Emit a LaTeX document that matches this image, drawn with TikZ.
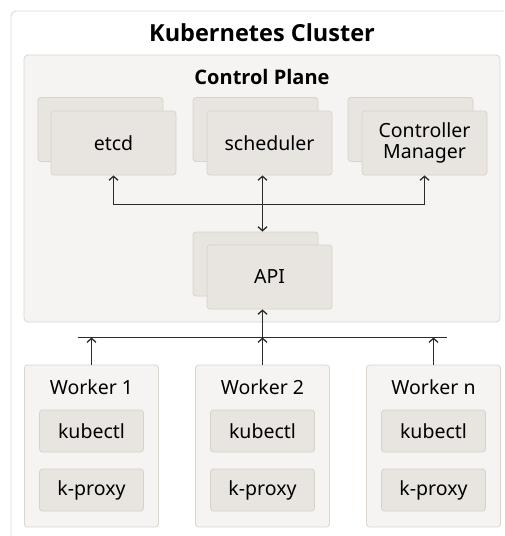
\documentclass[tikz,border=0pt]{standalone}
\usepackage{fontspec}
\setmainfont{Noto Sans}
\newfontfamily\titlefont{Open Sans}
\usetikzlibrary{arrows.meta}
\definecolor{clusterline}{HTML}{DDD5CC}
\definecolor{planefill}{HTML}{F5F4F2}
\definecolor{planeline}{HTML}{DCD5CD}
\definecolor{partfill}{HTML}{E8E4DF}
\definecolor{partline}{HTML}{D9D2C9}
\definecolor{wirecol}{HTML}{2B2B2B}

\tikzset{
  part/.style={draw=partline, fill=partfill, line width=0.8pt, rounded corners=3pt,
    minimum width=125pt, minimum height=64pt, inner sep=0pt, align=center,
    font=\fontsize{19.5}{21}\selectfont},
  smallpart/.style={part, minimum width=104pt, minimum height=42pt},
  worker/.style={draw=planeline, fill=planefill, line width=0.8pt, rounded corners=3pt,
    minimum width=134pt, minimum height=162pt, inner sep=0pt},
  wire/.style={draw=wirecol, line width=1.3pt},
  barb/.style={-{Straight Barb[length=4pt,width=9pt]}},
  label/.style={font=\fontsize{19.5}{21}\selectfont, inner sep=0pt}
}

\begin{document}
\begin{tikzpicture}[x=1pt, y=-1pt]

\useasboundingbox (0,0) rectangle (504,536);
\clip (0,0) rectangle (504,536);

% cluster and control plane
\draw[clusterline, fill=white, line width=0.8pt, rounded corners=5pt] (11,11) rectangle (560,580);
\draw[planeline, fill=planefill, line width=0.8pt, rounded corners=4pt] (24,55) rectangle (500,322);

\node[font=\titlefont\bfseries\fontsize{23.5}{26}\selectfont] (clustertitle) at (262,33) {Kubernetes Cluster};
\node[font=\titlefont\bfseries\fontsize{20}{22}\selectfont] (planetitle) at (262,77) {Control Plane};

% control plane parts
\node[part] (etcdback) at (100.5,129.5) {};
\node[part] (etcd) at (113.5,143) {etcd};

\node[part] (schedback) at (255.5,129.5) {};
\node[part] (sched) at (269.5,143) {scheduler};

\node[part] (ctrlback) at (410.5,129.5) {};
\node[part] (ctrl) at (424.5,143) {Controller\\Manager};

\node[part] (apiback) at (255.5,264) {};
\node[part] (api) at (269.5,277) {API};

% workers
\node[worker] (worker1) at (91.5,446) {};
\node[label] (worker1title) at (91.5,387) {Worker 1};
\node[smallpart] (kubectl1) at (91.5,431) {kubectl};
\node[smallpart] (proxy1) at (91.5,490) {k-proxy};

\node[worker] (worker2) at (262.5,446) {};
\node[label] (worker2title) at (262.5,387) {Worker 2};
\node[smallpart] (kubectl2) at (262.5,431) {kubectl};
\node[smallpart] (proxy2) at (262.5,490) {k-proxy};

\node[worker] (workern) at (433.5,446) {};
\node[label] (workerntitle) at (433.5,387) {Worker n};
\node[smallpart] (kubectln) at (433.5,431) {kubectl};
\node[smallpart] (proxyn) at (433.5,490) {k-proxy};

% upper bus
\coordinate (upleft) at (113.5,204.5);
\coordinate (upmid) at (262.5,204.5);
\coordinate (upright) at (424.5,204.5);

\draw[wire] (upleft) -- (upright);
\draw[wire, barb] (upleft) -- (etcd.south);
\draw[wire, barb] (upright) -- (ctrl.south);
\draw[wire, barb] (upmid) -- (sched.south -| upmid);
\draw[wire, barb] (upmid) -- (apiback.north -| upmid);

% lower bus
\coordinate (lowleft) at (78,337.5);
\coordinate (lowmid) at (262.5,337.5);
\coordinate (lowright) at (447,337.5);

\draw[wire] (lowleft) -- (lowright);
\draw[wire, barb] (lowmid) -- (api.south -| lowmid);
\draw[wire, barb] (worker1.north) -- (worker1.north |- lowmid);
\draw[wire, barb] (worker2.north) -- (worker2.north |- lowmid);
\draw[wire, barb] (workern.north) -- (workern.north |- lowmid);

\end{tikzpicture}
\end{document}
